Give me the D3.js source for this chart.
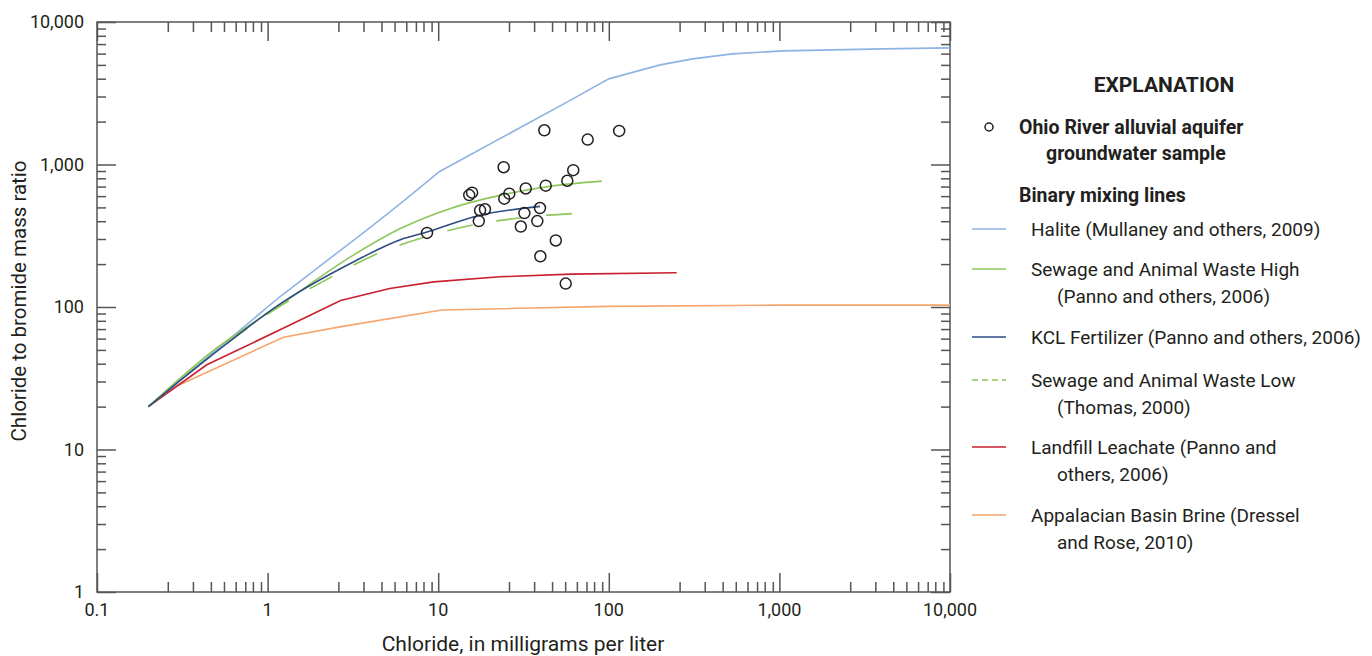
<!DOCTYPE html>
<html>
<head>
<meta charset="utf-8">
<script src="https://cdn.jsdelivr.net/npm/d3@7"></script>
<style>
  body { margin: 0; background: #fff; }
  svg text { font-family: "Liberation Sans Narrow", "Roboto", "DejaVu Sans Condensed", sans-serif; fill: #231f20; }
</style>
</head>
<body>
<svg id="chart" width="1372" height="656"></svg>
<script>
// groundwater samples: chloride (mg/L), Cl/Br mass ratio
const sampleCl = [41.9, 75.2, 115, 24.2, 61.9, 57.1, 15.2, 15.8, 32.6, 42.7, 26.1, 24.4, 17.6, 18.8, 32.0, 39.5, 17.3, 38.1, 30.5, 8.6, 48.9, 39.7, 55.9]
const sampleRatio = [1738, 1496, 1720, 957, 912, 769, 610, 634, 679, 710, 624, 576, 477, 485, 456, 495, 401, 401, 367, 331, 293, 227, 146]

// binary mixing lines [chloride, ratio]
const halite = [[0.2, 20], [1.18, 118], [3.8, 345], [6, 531], [10.2, 894], [59, 2805], [100, 3990], [200, 5000], [310, 5510], [530, 5975], [1050, 6270], [2060, 6370], [4050, 6475], [10000, 6580]]
const sewageHigh = [[0.2, 20], [0.46, 47.5], [1.18, 103], [3.18, 231], [6, 355], [11.7, 490], [23, 607], [45, 702], [91, 764]]
const kclFert = [[0.2, 20], [0.46, 44.9], [1.24, 109], [3.18, 207], [6, 297], [8.6, 336], [17.6, 440], [39.5, 508]]
const sewageLow = [[0.2, 20], [0.46, 45], [1.13, 98], [2.22, 156], [4.2, 231], [8.4, 310], [16.8, 381], [33.7, 428], [69, 456]]
const landfill = [[0.2, 20], [0.44, 39.3], [1.26, 71.7], [2.68, 111], [5.2, 135], [9.4, 150], [23, 163], [60, 170], [250, 174]]
const brine = [[0.2, 20], [0.29, 27.7], [1.24, 61.4], [2.65, 72.5], [10.5, 95.3], [23, 97.3], [100, 101], [1000, 103], [10000, 103]]

const xMajor = [0.1, 1, 10, 100, 1000, 10000]
const yMajor = [1, 10, 100, 1000, 10000]
const xMinorSteps = [2.6, 3.65, 4.65, 5.55, 6.5, 7.4, 8.2, 9.15]
const yMinorSteps = [2, 3, 4, 5, 6, 7, 8, 9]

const legendItems = [
    {lines: ["Halite (Mullaney and others, 2009)"], color: "#8fb3e3", dash: null, smooth: false},
    {lines: ["Sewage and Animal Waste High", "(Panno and others, 2006)"], color: "#8dc65a", dash: null, smooth: true},
    {lines: ["KCL Fertilizer (Panno and others, 2006)"], color: "#2b4c85", dash: null, smooth: true},
    {lines: ["Sewage and Animal Waste Low", "(Thomas, 2000)"], color: "#8dc65a", dash: "6,4", smooth: true},
    {lines: ["Landfill Leachate (Panno and", "others, 2006)"], color: "#c8202f", dash: null, smooth: false},
    {lines: ["Appalacian Basin Brine (Dressel", "and Rose, 2010)"], color: "#f5a56e", dash: null, smooth: false}
]
const seriesData = [halite, sewageHigh, kclFert, sewageLow, landfill, brine]

const m = {left: 97, right: 950, top: 22, bottom: 592}
const axisColor = "#555"

var svg = d3.select("#chart")

var xScale = d3.scaleLog().domain([0.1, 10000]).range([m.left, m.right])
var yScale = d3.scaleLog().domain([1, 10000]).range([m.bottom, m.top])

var xMinor = []
for (let d of xMajor.slice(0, -1)) for (let s of xMinorSteps) xMinor.push(d * s)
var yMinor = []
for (let d of yMajor.slice(0, -1)) for (let s of yMinorSteps) yMinor.push(d * s)

function tickAxis(axisFn, scale, values, size, transform){
    var g = svg.append("g")
        .attr("transform", transform)
        .call(axisFn(scale).tickValues(values).tickSize(size).tickFormat(""))
    g.select(".domain").remove()
    g.selectAll("line").attr("stroke", axisColor).attr("stroke-width", 1.5)
    return g
}

// ticks point inward on all four sides
tickAxis(d3.axisTop, xScale, xMinor, 10, "translate(0," + m.bottom + ")")
tickAxis(d3.axisTop, xScale, xMajor, 19, "translate(0," + m.bottom + ")")
tickAxis(d3.axisBottom, xScale, xMinor, 10, "translate(0," + m.top + ")")
tickAxis(d3.axisBottom, xScale, xMajor, 19, "translate(0," + m.top + ")")
tickAxis(d3.axisRight, yScale, yMinor, 9, "translate(" + m.left + ",0)")
tickAxis(d3.axisRight, yScale, yMajor, 19, "translate(" + m.left + ",0)")
tickAxis(d3.axisLeft, yScale, yMinor, 9, "translate(" + m.right + ",0)")
tickAxis(d3.axisLeft, yScale, yMajor, 19, "translate(" + m.right + ",0)")

svg.append("rect")
    .attr("x", m.left).attr("y", m.top)
    .attr("width", m.right - m.left).attr("height", m.bottom - m.top)
    .attr("fill", "none").attr("stroke", axisColor).attr("stroke-width", 1.5)

var fmt = d3.format(",")

svg.selectAll(".xlab").data(xMajor).join("text")
    .attr("x", d => xScale(d)).attr("y", 616)
    .attr("text-anchor", "middle").style("font-size", "18px")
    .text(d => d < 1 ? "0.1" : fmt(d))

svg.selectAll(".ylab").data(yMajor).join("text")
    .attr("x", 84).attr("y", d => yScale(d) + 6)
    .attr("text-anchor", "end").style("font-size", "18px")
    .text(d => fmt(d))

svg.append("text")
    .attr("x", 523).attr("y", 651)
    .attr("text-anchor", "middle").style("font-size", "21px")
    .text("Chloride, in milligrams per liter")

svg.append("text")
    .attr("transform", "translate(26,301) rotate(-90)")
    .attr("text-anchor", "middle").style("font-size", "20.5px")
    .text("Chloride to bromide mass ratio")

// mixing lines
var line = d3.line()
    .x(d => xScale(d[0]))
    .y(d => yScale(d[1]))
var smoothLine = d3.line()
    .x(d => xScale(d[0]))
    .y(d => yScale(d[1]))
    .curve(d3.curveMonotoneX)

var clip = svg.append("clipPath").attr("id", "plotclip")
clip.append("rect").attr("x", m.left).attr("y", m.top)
    .attr("width", m.right - m.left).attr("height", m.bottom - m.top)

var order = [5, 4, 0, 3, 1, 2]
for (let i of order){
    svg.append("path")
        .datum(seriesData[i])
        .attr("clip-path", "url(#plotclip)")
        .attr("d", legendItems[i].smooth ? smoothLine : line)
        .attr("fill", "none")
        .attr("stroke", legendItems[i].color)
        .attr("stroke-width", 1.6)
        .attr("stroke-dasharray", legendItems[i].dash ? "26,24" : null)
}

// samples
svg.selectAll(".sample").data(sampleCl).join("circle")
    .attr("cx", d => xScale(d))
    .attr("cy", (d, i) => yScale(sampleRatio[i]))
    .attr("r", 5.5)
    .attr("fill", "none")
    .attr("stroke", "#231f20")
    .attr("stroke-width", 1.5)

// explanation
var lg = svg.append("g")
lg.append("text").attr("x", 1164).attr("y", 92)
    .attr("text-anchor", "middle").style("font-size", "21px").style("font-weight", "bold")
    .text("EXPLANATION")
lg.append("circle").attr("cx", 989).attr("cy", 127).attr("r", 4)
    .attr("fill", "none").attr("stroke", "#231f20").attr("stroke-width", 1.5)
lg.append("text").attr("x", 1019).attr("y", 134)
    .style("font-size", "19.5px").style("font-weight", "bold").text("Ohio River alluvial aquifer")
lg.append("text").attr("x", 1046).attr("y", 160)
    .style("font-size", "19.5px").style("font-weight", "bold").text("groundwater sample")
lg.append("text").attr("x", 1019).attr("y", 202)
    .style("font-size", "19.5px").style("font-weight", "bold").text("Binary mixing lines")

var legendY = [229, 269, 337, 380, 447, 515]
legendItems.forEach((item, i) => {
    var y = legendY[i]
    lg.append("line")
        .attr("x1", 972).attr("x2", 1006).attr("y1", y).attr("y2", y)
        .attr("stroke", item.color).attr("stroke-width", 1.6)
        .attr("stroke-dasharray", item.dash)
    item.lines.forEach((t, j) => {
        lg.append("text")
            .attr("x", j == 0 ? 1031 : 1057).attr("y", y + 7 + j * 27)
            .style("font-size", "19px").text(t)
    })
})
</script>
</body>
</html>
